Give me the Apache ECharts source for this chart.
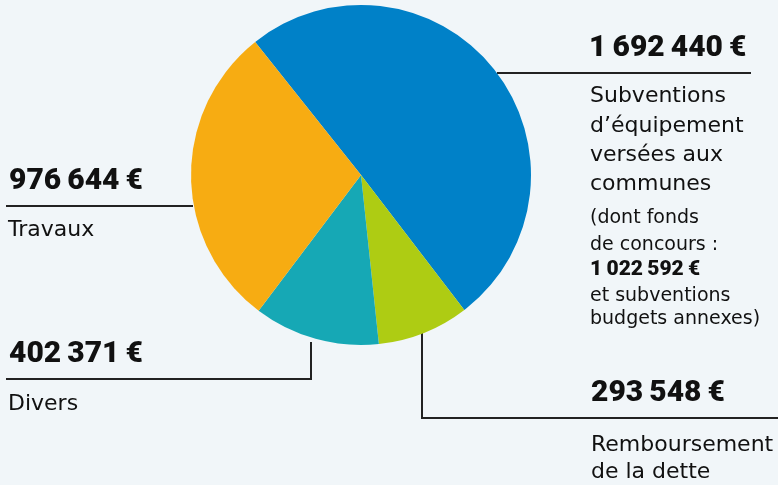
<!DOCTYPE html>
<html>
<head>
<meta charset="utf-8">
<script src="https://cdn.jsdelivr.net/npm/echarts@6/dist/echarts.min.js"></script>
<style>
  html, body { margin: 0; padding: 0; background: #f1f6f9; }
  #chart { width: 778px; height: 485px; }
</style>
</head>
<body>
<div id="chart"></div>
<script>
// slices, in clockwise order starting from the upper left
const categories = ['Subventions', 'Remboursement de la dette', 'Divers', 'Travaux'];
const amounts = [1692440, 293548, 402371, 976644];
const amountLabels = ['1\u2009692\u2009440\u2009€', '293\u2009548\u2009€', '402\u2009371\u2009€', '976\u2009644\u2009€'];
const colors = ['#0081c8', '#aecc13', '#16a8b5', '#f7ac12'];

const chart = echarts.init(document.getElementById('chart'), null, { renderer: 'canvas' });

const boldFont = "900 30px Roboto, sans-serif";
const bodyFont = "22px 'DejaVu Sans', sans-serif";
const smallFont = "19px 'DejaVu Sans', sans-serif";
const smallBold = "900 21px Roboto, sans-serif";
const ink = '#111111';

function txt(text, x, y, font) {
  return {
    type: 'text', silent: true,
    style: { text: text, x: x, y: y, font: font, fill: ink, verticalAlign: 'middle', align: 'left' }
  };
}
function line(points) {
  return {
    type: 'polyline', silent: true,
    shape: { points: points },
    style: { stroke: '#222222', lineWidth: 2, fill: null }
  };
}

const option = {
  backgroundColor: '#f1f6f9',
  animation: false,
  series: [{
    type: 'pie',
    center: [361, 175],
    radius: [0, 170],
    startAngle: 128.5,
    clockwise: true,
    silent: true,
    label: { show: false },
    labelLine: { show: false },
    itemStyle: { borderWidth: 0 },
    data: categories.map((c, i) => ({ name: c, value: amounts[i], itemStyle: { color: colors[i] } }))
  }],
  graphic: [
    // Subventions
    line([[497, 73], [751, 73]]),
    txt(amountLabels[0], 589, 48, boldFont),
    txt('Subventions', 590, 96, bodyFont),
    txt('d\u2019équipement', 590, 126, bodyFont),
    txt('versées aux', 590, 155, bodyFont),
    txt('communes', 590, 184, bodyFont),
    txt('(dont fonds', 590, 218, smallFont),
    txt('de concours :', 590, 245, smallFont),
    txt('1\u2009022\u2009592\u2009€', 590, 270, smallBold),
    txt('et subventions', 590, 296, smallFont),
    txt('budgets annexes)', 590, 319, smallFont),
    // Travaux
    line([[6, 206], [193, 206]]),
    txt(amountLabels[3], 9, 181, boldFont),
    txt('Travaux', 8, 230, bodyFont),
    // Divers
    line([[6, 379], [311, 379], [311, 342]]),
    txt(amountLabels[2], 9, 354, boldFont),
    txt('Divers', 8, 404, bodyFont),
    // Remboursement de la dette
    line([[422, 333], [422, 418], [778, 418]]),
    txt(amountLabels[1], 591, 393, boldFont),
    txt('Remboursement', 591, 445, bodyFont),
    txt('de la dette', 591, 472, bodyFont)
  ]
};

chart.setOption(option);
</script>
</body>
</html>
